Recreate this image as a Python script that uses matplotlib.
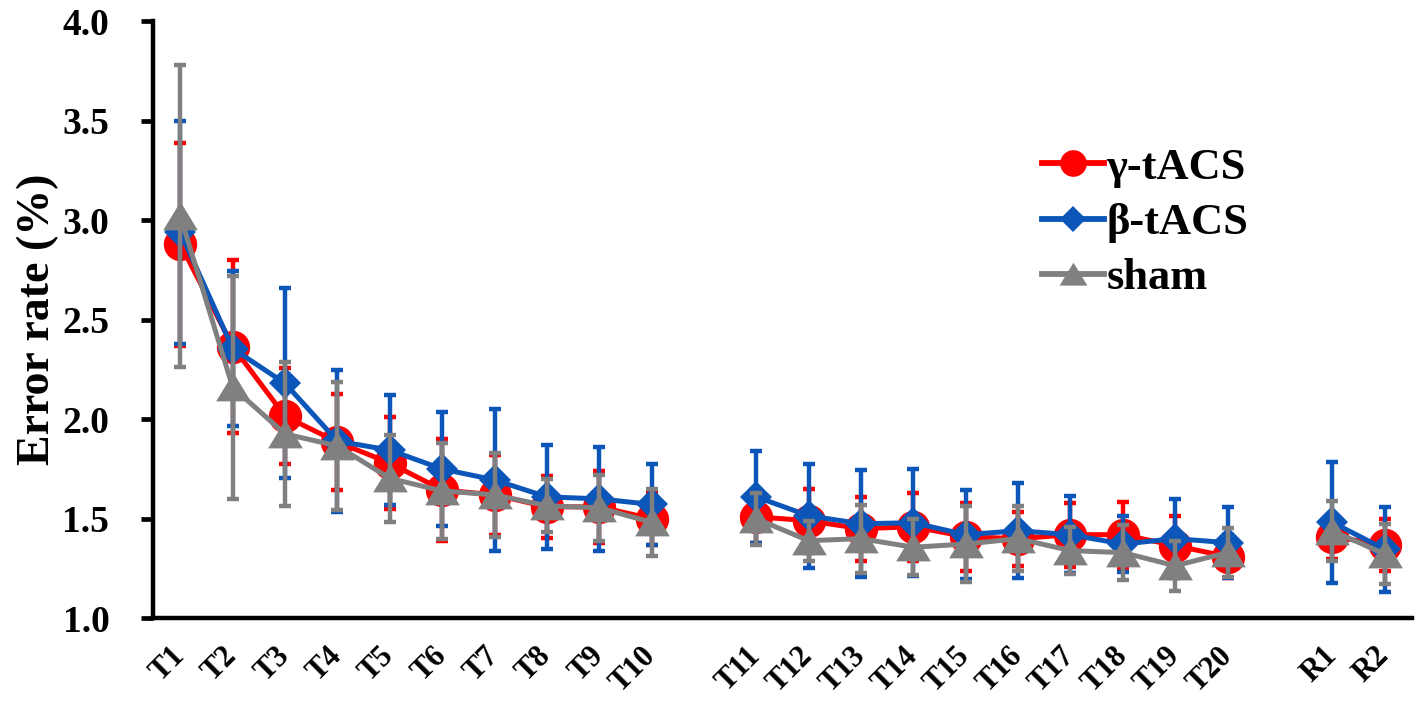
import numpy as np
import matplotlib
matplotlib.use("Agg")
import matplotlib.pyplot as plt
from matplotlib.lines import Line2D

plt.rcParams["font.family"] = ["Liberation Serif", "DejaVu Serif"]
plt.rcParams["font.weight"] = "bold"

# ---------------------------------------------------------------------------
# Data
# ---------------------------------------------------------------------------
LABELS = [f"T{i}" for i in range(1, 21)] + ["R1", "R2"]

GAMMA_MEAN = [2.88, 2.365, 2.015, 1.885, 1.78, 1.645, 1.62, 1.56, 1.56, 1.50,
              1.51, 1.49, 1.45, 1.46, 1.41, 1.40, 1.42, 1.42, 1.365, 1.31,
              1.41, 1.37]
GAMMA_ERR = [0.51, 0.435, 0.24, 0.24, 0.23, 0.255, 0.20, 0.157, 0.18, 0.13,
             0.13, 0.16, 0.16, 0.17, 0.17, 0.135, 0.16, 0.165, 0.15, 0.11,
             0.11, 0.13]

BETA_MEAN = [2.94, 2.355, 2.18, 1.89, 1.845, 1.75, 1.695, 1.61, 1.60, 1.572,
             1.61, 1.515, 1.475, 1.48, 1.42, 1.44, 1.42, 1.373, 1.40, 1.38,
             1.482, 1.347]
BETA_ERR = [0.56, 0.39, 0.477, 0.355, 0.277, 0.287, 0.355, 0.26, 0.263, 0.202,
            0.23, 0.26, 0.27, 0.27, 0.225, 0.24, 0.195, 0.142, 0.20, 0.18,
            0.304, 0.213]

SHAM_MEAN = [3.02, 2.16, 1.926, 1.866, 1.703, 1.64, 1.62, 1.565, 1.555, 1.482,
             1.50, 1.39, 1.40, 1.357, 1.373, 1.40, 1.34, 1.33, 1.264, 1.33,
             1.44, 1.323]
SHAM_ERR = [0.76, 0.56, 0.36, 0.32, 0.218, 0.24, 0.21, 0.133, 0.165, 0.167,
            0.13, 0.10, 0.17, 0.14, 0.19, 0.163, 0.12, 0.14, 0.125, 0.125,
            0.15, 0.15]

# blocks of sessions that are joined by a line (one empty slot between blocks)
GROUPS = [(0, 10), (10, 20), (20, 22)]

RED = "#FF0000"
BLUE = "#0B56B8"
GRAY = "#808080"

# x position for each label: every new block adds one empty category slot
xpos = np.array([i + sum(1 for s, _ in GROUPS[1:] if i >= s) for i in range(len(LABELS))], dtype=float)

tri = [(-1.0, -0.8), (1.0, -0.8), (0.0, 0.85)]

series = [
    ("γ-tACS", GAMMA_MEAN, GAMMA_ERR, RED, "o", 24),
    ("β-tACS", BETA_MEAN, BETA_ERR, BLUE, "D", 16.5),
    ("sham", SHAM_MEAN, SHAM_ERR, GRAY, tri, 25),
]

fig = plt.figure(figsize=(14.18, 7.05), dpi=100)
ax = fig.add_axes([0.108, 0.123, 0.888, 0.847])

handles = []
for z, (name, mean, err, color, marker, ms) in enumerate(series):
    mean = np.asarray(mean)
    err = np.asarray(err)
    ax.errorbar(xpos, mean, yerr=err, fmt="none", ecolor=color, elinewidth=3.2,
                capsize=4.5, capthick=3.2, zorder=2 + 2 * z)
    for s, e in GROUPS:
        ax.plot(xpos[s:e], mean[s:e], color=color, lw=3.6, marker=marker,
                markersize=ms, markeredgewidth=0, zorder=3 + 2 * z)
    handles.append(Line2D([], [], color=color, lw=4.2, marker=marker,
                          markersize=ms, markeredgewidth=0, label=name))

ax.set_xlim(-0.52, 23.53)
ax.set_ylim(1.0, 4.0)
yt = np.arange(1.0, 4.01, 0.5)
ax.set_yticks(yt)
ax.set_yticklabels([f"{v:.1f}" for v in yt], fontsize=27, fontweight="bold")
ax.set_xticks(xpos)
ax.set_xticklabels(LABELS, fontsize=22, fontweight="bold", rotation=45,
                   ha="right", va="center", rotation_mode="anchor")
ax.tick_params(axis="x", length=0, pad=24)
ax.tick_params(axis="y", length=8.6, width=3.4, direction="out", pad=23)

for side in ("top", "right"):
    ax.spines[side].set_visible(False)
for side in ("left", "bottom"):
    ax.spines[side].set_linewidth(3.2)

ax.set_ylabel("Error rate (%)", fontsize=33, fontweight="bold", labelpad=2)

ax.legend(handles=handles, loc="upper left", bbox_to_anchor=(0.674, 0.855),
          frameon=False, handlelength=1.4, handletextpad=0.05,
          labelspacing=0.34, markerscale=0.8,
          prop={"weight": "bold", "size": 32})

fig.savefig("out.png", dpi=100)
